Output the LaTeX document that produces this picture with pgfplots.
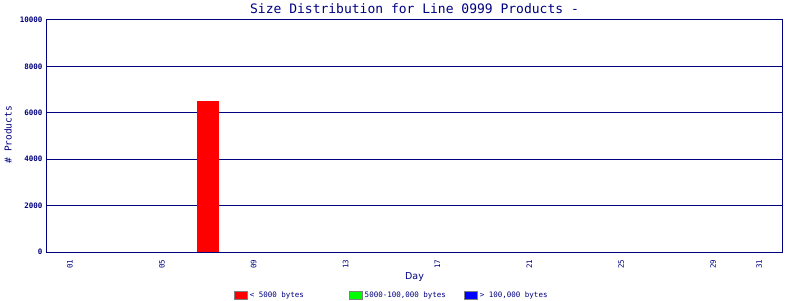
\documentclass[border=0pt]{standalone}
\usepackage{pgfplots}
\pgfplotsset{compat=1.18}
\usepackage{fontspec}
\setmainfont{DejaVu Sans Mono}
\newfontfamily\labfont{DejaVu Sans}
\definecolor{navy}{RGB}{0,0,128}
\begin{document}
\begin{tikzpicture}[x=1pt,y=1pt]
\path[use as bounding box] (0,0) rectangle (800,300);
\begin{axis}[
  at={(47pt,48pt)}, anchor=south west,
  scale only axis, width=735pt, height=232pt,
  xmin=0, xmax=32, ymin=0, ymax=10000,
  ybar stacked, bar width=22pt,
  axis line style={navy, line width=1pt},
  ymajorgrids, grid style={navy, line width=1pt},
  major tick length=0pt,
  xtick={1,5,9,13,17,21,25,29,31},
  xticklabels={01,05,09,13,17,21,25,29,31},
  ytick={0,2000,4000,6000,8000,10000},
  scaled y ticks=false,
  /pgf/number format/assume math mode=true,
  yticklabel style={font=\fontsize{7.5}{8}\selectfont\bfseries, text=navy, xshift=-1pt},
  xticklabel style={font=\fontsize{7.5}{8}\selectfont, text=navy, rotate=90, anchor=east, xshift=-4pt},
  yticklabel={\pgfmathprintnumber[fixed,1000 sep={}]{\tick}},
  title={Size Distribution for Line 0999 Products -},
  title style={font=\fontsize{13}{14}\selectfont, text=navy, at={(0.5,1)}, anchor=center, yshift=5pt},
  xlabel={Day}, xlabel style={font=\labfont\fontsize{9.5}{10}\selectfont, text=navy, at={(0.5,0)}, anchor=center, yshift=-25pt},
  ylabel={\# Products},
  every axis y label/.style={at={(0,0.505)}, rotate=90, anchor=center, yshift=39pt, font=\fontsize{9.5}{10}\selectfont, text=navy},
  legend columns=3,
  legend style={draw=none, fill=none, font=\fontsize{7.5}{8}\selectfont, text=navy, at={(0.25,-0.185)}, anchor=west,
     /tikz/column 2/.style={column sep=43pt}, /tikz/column 4/.style={column sep=16pt}},
]
\addplot[fill=red, draw=none, legend image code/.code={\draw[fill=red,draw=gray,line width=0.8pt](0pt,-4pt) rectangle (13pt,4pt);}] coordinates {(7,6510)};
\addlegendentry{< 5000 bytes}
\addplot[fill=green, draw=none, legend image code/.code={\draw[fill=green,draw=gray,line width=0.8pt](0pt,-4pt) rectangle (13pt,4pt);}] coordinates {(7,0)};
\addlegendentry{5000-100,000 bytes}
\addplot[fill=blue, draw=blue, line width=1pt, legend image code/.code={\draw[fill=blue,draw=gray,line width=0.8pt](0pt,-4pt) rectangle (13pt,4pt);}] coordinates {(7,0)};
\addlegendentry{> 100,000 bytes}
\end{axis}
\end{tikzpicture}
\end{document}
